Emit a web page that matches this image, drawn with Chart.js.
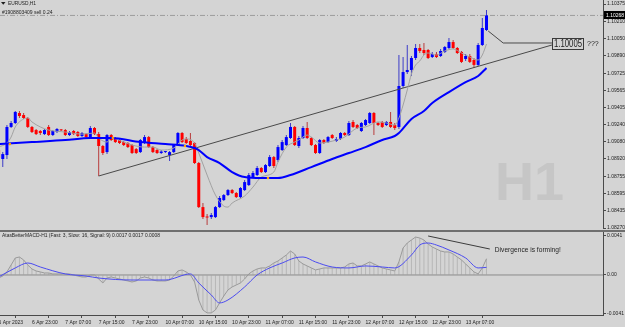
<!DOCTYPE html>
<html>
<head>
<meta charset="utf-8">
<title>EURUSD,H1</title>
<script src="https://cdn.jsdelivr.net/npm/chart.js@4.4.1/dist/chart.umd.min.js"></script>
<style>
  html, body { margin: 0; padding: 0; background: #d4d4d4; overflow: hidden; }
  #box { position: relative; width: 625px; height: 327px; }
  canvas { position: absolute; left: 0; }
  #price { top: 0; }
  #macd { top: 229px; }
</style>
</head>
<body>
<div id="box">
  <canvas id="price" width="625" height="229"></canvas>
  <canvas id="macd" width="625" height="98"></canvas>
</div>
<script>
// H1 bars, 6 Apr 15:00 .. 13 Apr 12:00 (index 0..117)
const open = [
  1.09003, 1.08919, 1.08956, 1.0922, 1.09257, 1.09351, 1.09332, 1.09304, 1.0922, 1.09191,
  1.09182, 1.09153, 1.0922, 1.09144, 1.09172, 1.09191, 1.09191, 1.09144, 1.09182, 1.09172,
  1.09135, 1.09153, 1.09116, 1.0921, 1.09153, 1.09041, 1.08984, 1.09144, 1.09116, 1.09097,
  1.09078, 1.09069, 1.0905, 1.09012, 1.08984, 1.09069, 1.09125, 1.09031, 1.09003, 1.08975,
  1.08984, 1.08956, 1.08984, 1.0905, 1.09163, 1.09107, 1.09088, 1.09069, 1.08881, 1.08467,
  1.08373, 1.08373, 1.08373, 1.08467, 1.08533, 1.0858, 1.08627, 1.08599, 1.08561, 1.08627,
  1.08674, 1.08749, 1.08768, 1.08834, 1.08796, 1.08853, 1.08937, 1.08909, 1.09003, 1.0905,
  1.09116, 1.0922, 1.09041, 1.09116, 1.0921, 1.09116, 1.0905, 1.08975, 1.09097, 1.09078,
  1.09144, 1.09088, 1.09107, 1.09163, 1.09144, 1.09267, 1.09238, 1.09182, 1.09238, 1.09257,
  1.09351, 1.09257, 1.09267, 1.09238, 1.09267, 1.09238, 1.0922, 1.09605, 1.09736, 1.09755,
  1.09868, 1.09962, 1.09943, 1.09943, 1.09877, 1.09906, 1.09887, 1.09925, 1.09962, 1.10018,
  1.09962, 1.09925, 1.09859, 1.09887, 1.09849, 1.09803, 1.0999, 1.10131
]
const high = [
  1.09022, 1.08984, 1.09238, 1.09276, 1.0937, 1.0937, 1.09351, 1.09313, 1.09229, 1.09201,
  1.09191, 1.09201, 1.09238, 1.09191, 1.0921, 1.09201, 1.09201, 1.09182, 1.09191, 1.09182,
  1.09172, 1.09163, 1.09229, 1.0922, 1.09172, 1.0905, 1.09153, 1.09153, 1.09125, 1.09107,
  1.09088, 1.09078, 1.09059, 1.09022, 1.09107, 1.09144, 1.09135, 1.09041, 1.09012, 1.09003,
  1.08994, 1.08994, 1.09059, 1.09172, 1.09172, 1.09125, 1.09163, 1.09078, 1.0889, 1.08505,
  1.08401, 1.08411, 1.08477, 1.08571, 1.08589, 1.08637, 1.08637, 1.08608, 1.08655, 1.08721,
  1.08787, 1.08806, 1.08853, 1.08843, 1.08871, 1.08956, 1.08947, 1.0905, 1.09097, 1.09144,
  1.09257, 1.09229, 1.09135, 1.09229, 1.09267, 1.09125, 1.09059, 1.09107, 1.09107, 1.09135,
  1.09153, 1.09125, 1.09172, 1.09172, 1.09276, 1.09285, 1.09248, 1.09267, 1.09295, 1.09361,
  1.09361, 1.09267, 1.09276, 1.09276, 1.09361, 1.09257, 1.09896, 1.09877, 1.0999, 1.09887,
  1.09999, 1.09999, 1.10009, 1.09953, 1.09925, 1.09925, 1.09953, 1.09981, 1.10056, 1.10037,
  1.09971, 1.09934, 1.09906, 1.09906, 1.09868, 1.10009, 1.10244, 1.10319
]
const low = [
  1.08909, 1.08843, 1.08919, 1.0921, 1.09248, 1.09304, 1.09295, 1.0921, 1.09163, 1.09144,
  1.09144, 1.09144, 1.09135, 1.09135, 1.09163, 1.09182, 1.09135, 1.09135, 1.09144, 1.09125,
  1.09125, 1.09116, 1.09107, 1.09144, 1.08759, 1.08956, 1.08965, 1.09088, 1.09069, 1.09059,
  1.09041, 1.09022, 1.08965, 1.08965, 1.08975, 1.09059, 1.09022, 1.08975, 1.08965, 1.08965,
  1.08975, 1.089, 1.08975, 1.09041, 1.09069, 1.09059, 1.09041, 1.08871, 1.08458, 1.08355,
  1.08298, 1.08355, 1.08364, 1.08458, 1.08524, 1.08571, 1.08589, 1.08552, 1.08552, 1.08618,
  1.08665, 1.0874, 1.08759, 1.08787, 1.08787, 1.08843, 1.08834, 1.0889, 1.08994, 1.09041,
  1.09107, 1.09041, 1.09022, 1.09107, 1.09107, 1.09041, 1.08965, 1.08965, 1.09059, 1.09069,
  1.09107, 1.09078, 1.09097, 1.09135, 1.09135, 1.0921, 1.09201, 1.09172, 1.09229, 1.09248,
  1.09144, 1.09229, 1.0921, 1.09229, 1.0921, 1.09191, 1.09201, 1.09586, 1.09717, 1.09699,
  1.09849, 1.09915, 1.09896, 1.09859, 1.09868, 1.09868, 1.09877, 1.09915, 1.09953, 1.09953,
  1.09906, 1.09821, 1.0984, 1.09821, 1.09774, 1.09793, 1.09981, 1.10122
]
const close = [
  1.08928, 1.08965, 1.0922, 1.09257, 1.09361, 1.09323, 1.09304, 1.0922, 1.09172, 1.09153,
  1.09163, 1.09191, 1.09144, 1.09182, 1.09201, 1.09188, 1.09144, 1.09172, 1.09153, 1.09135,
  1.09163, 1.09125, 1.0921, 1.09153, 1.09041, 1.08975, 1.09144, 1.09097, 1.09078, 1.09069,
  1.0905, 1.09031, 1.08975, 1.08975, 1.09097, 1.09125, 1.09031, 1.08984, 1.08975, 1.08989,
  1.08984, 1.08984, 1.0905, 1.09163, 1.09078, 1.09069, 1.0905, 1.08881, 1.08467, 1.08373,
  1.08369, 1.08392, 1.08467, 1.08552, 1.0858, 1.08627, 1.08599, 1.08561, 1.08646, 1.08702,
  1.08768, 1.08787, 1.08834, 1.08796, 1.08862, 1.08937, 1.08853, 1.09031, 1.09078, 1.09125,
  1.0922, 1.0905, 1.09116, 1.0921, 1.09116, 1.0905, 1.08975, 1.09097, 1.09069, 1.09125,
  1.09116, 1.09107, 1.09163, 1.09144, 1.09257, 1.0922, 1.0921, 1.09257, 1.09285, 1.09351,
  1.09257, 1.09238, 1.0922, 1.09267, 1.0922, 1.0921, 1.09605, 1.09736, 1.09755, 1.09868,
  1.09962, 1.09934, 1.09915, 1.09868, 1.09906, 1.09877, 1.09934, 1.09971, 1.10018, 1.09962,
  1.09915, 1.09831, 1.09887, 1.09831, 1.09803, 1.0999, 1.1015, 1.10268
]

// blue (slow) moving average
const slowIdx = [0, 8, 16, 22, 27, 34, 40, 45, 47, 48, 50, 53, 56, 59, 63, 67, 70, 75, 80, 84, 88, 92, 95, 96, 99, 102, 104, 108, 112, 115, 117]
const slowVal = [1.09059, 1.09078, 1.09097, 1.09116, 1.09116, 1.09078, 1.09059, 1.09041, 1.09022, 1.09003, 1.08937, 1.08881, 1.08796, 1.08749, 1.0874, 1.0874, 1.08768, 1.08843, 1.08919, 1.08975, 1.09031, 1.09097, 1.09135, 1.09163, 1.09295, 1.0937, 1.09445, 1.09548, 1.09642, 1.09699, 1.09774]

// gray (fast) moving average
const fastIdx = [0, 2, 3, 4, 6, 7, 8, 10, 12, 16, 20, 23, 24, 26, 27, 30, 32, 35, 37, 39, 42, 44, 45, 47, 48, 50, 52, 54, 55, 56, 59, 61, 63, 66, 67, 69, 71, 72, 74, 75, 77, 79, 81, 83, 86, 88, 91, 93, 95, 96, 97, 98, 99, 100, 101, 102, 103, 105, 107, 109, 111, 113, 115, 116, 117]
const fastVal = [1.09031, 1.09069, 1.09125, 1.0922, 1.09295, 1.09304, 1.09267, 1.0922, 1.09191, 1.09172, 1.09153, 1.09163, 1.09116, 1.09078, 1.09116, 1.09078, 1.0905, 1.09031, 1.09031, 1.09003, 1.09022, 1.09097, 1.09107, 1.09069, 1.08975, 1.08768, 1.0858, 1.08477, 1.08467, 1.08505, 1.08571, 1.08655, 1.08749, 1.08796, 1.0889, 1.09031, 1.09078, 1.09097, 1.09144, 1.09125, 1.09069, 1.09078, 1.09097, 1.09125, 1.0921, 1.0922, 1.09267, 1.09257, 1.09238, 1.09304, 1.09426, 1.09567, 1.09717, 1.09802, 1.0984, 1.09896, 1.09915, 1.09896, 1.09934, 1.09953, 1.09915, 1.09877, 1.09849, 1.09896, 1.09999]

// small orange marks on the slow average
const crossIdx = [2.7, 27.4, 44.7, 64.6]
const crossVal = [1.09059, 1.09116, 1.09041, 1.0874]

// drawn objects
const trendIdx = [24, 132.7]
const trendVal = [1.08759, 1.0999]
const calloutIdx = [117.4, 121, 132.7]
const calloutVal = [1.10122, 1.10009, 1.10009]
const boxIdx = 132.7
const boxPrice = 1.09999
const boxText = "1.10005"
const bid = 1.10268

const priceTicks = [1.10375, 1.1021, 1.1005, 1.0989, 1.09725, 1.09565, 1.09405, 1.0924, 1.0908, 1.0892, 1.08755, 1.08595, 1.08435, 1.0827]

// MACD main per bar, signal read at points
const macd = [
  -0.00032, -0.00011, 0.00032, 0.00105, 0.00179, 0.00189, 0.00158, 0.00105, 0.00063, 0.00042,
  0.00032, 0.00021, 0.00021, 0.00011, 0.00011, 0.00011, 0.00011, 0.00011, 0, -0.00011,
  -0.00021, -0.00021, 0, 0, -0.00042, -0.00084, -0.00032, -0.00021, -0.00032, -0.00042,
  -0.00053, -0.00063, -0.00074, -0.00063, -0.00032, -0.00021, -0.00032, -0.00053, -0.00063, -0.00063,
  -0.00063, -0.00053, -0.00011, 0.00042, 0.00053, 0.00032, 0, -0.00074, -0.00263, -0.00368,
  -0.00399, -0.00399, -0.00368, -0.00294, -0.00221, -0.00158, -0.00126, -0.00105, -0.00084, -0.00042,
  0.00011, 0.00042, 0.00063, 0.00074, 0.00074, 0.00095, 0.00126, 0.00147, 0.00179, 0.0021,
  0.00252, 0.00221, 0.00147, 0.00116, 0.00095, 0.00074, 0.00053, 0.00063, 0.00074, 0.00074,
  0.00074, 0.00074, 0.00074, 0.00084, 0.00116, 0.00126, 0.00095, 0.00095, 0.00116, 0.00137,
  0.00116, 0.00095, 0.00074, 0.00063, 0.00053, 0.00042, 0.00137, 0.00284, 0.00336, 0.00368,
  0.00399, 0.00389, 0.00368, 0.00326, 0.00294, 0.00273, 0.00252, 0.00242, 0.00242, 0.00221,
  0.00189, 0.00158, 0.00116, 0.00074, 0.00032, 0.00011, 0.00074, 0.0017
]
const sigIdx = [0, 4, 7, 10, 16, 21, 24, 32, 40, 46, 48, 51, 53, 55, 59, 62, 65, 68, 71, 73, 76, 80, 84, 88, 92, 95, 99, 101, 103, 105, 108, 112, 115, 117]
const sigVal = [-0.00021, 0.00074, 0.00126, 0.00084, 0.00011, -0.00011, -0.00032, -0.00053, -0.00053, 0.00011, -0.00084, -0.0021, -0.00294, -0.00263, -0.00126, 0, 0.00074, 0.00126, 0.00179, 0.00189, 0.00137, 0.00084, 0.00074, 0.00095, 0.00084, 0.00074, 0.0021, 0.00315, 0.00336, 0.00315, 0.00263, 0.00179, 0.00074, 0.0008]
const divIdx = [103, 117.8]
const divVal = [0.0041, 0.00273]
const divText = "Divergence is forming!"
const divTextIdx = 119
const divTextVal = 0.00263
const macdTitle = "AtasBetterMACD-H1 (Fast: 3, Slow: 16, Signal: 9) 0.0017 0.0017 0.0008"
const macdTicks = [0.0041, 0, -0.0041]
const macdTickLabels = ["0.0041", "0.00", "-0.0041"]

const timeIdx = [0, 8, 16, 24, 32, 40, 48, 56, 64, 72, 80, 88, 96, 104, 112]
const timeLabels = ["6 Apr 2023", "6 Apr 23:00", "7 Apr 07:00", "7 Apr 15:00", "7 Apr 23:00", "10 Apr 07:00", "10 Apr 15:00", "10 Apr 23:00", "11 Apr 07:00", "11 Apr 15:00", "11 Apr 23:00", "12 Apr 07:00", "12 Apr 15:00", "12 Apr 23:00", "13 Apr 07:00"]

const FONT = '"Liberation Sans", Arial, sans-serif'
const BG = "#d4d4d4"
const X_MIN = 0.336
const X_MAX = 144.94

function pts(xs, ys) {
  return xs.map((x, i) => ({ x: x, y: ys[i] }))
}

function fitAxis(w, h) {
  return (s) => {
    if (w) s.width = w
    if (h) s.height = h
    s.paddingTop = 0
    s.paddingBottom = 0
    s.paddingLeft = 0
    s.paddingRight = 0
  }
}

const axisTicks = { autoSkip: false, maxRotation: 0, minRotation: 0, padding: 1, color: "#1e1e1e", font: { family: FONT, size: 5 } }
const axisGrid = { drawOnChartArea: false, tickLength: 3, color: "#4a4a4a" }

const pricePaint = {
  id: "pricePaint",
  beforeDraw(chart) {
    const { ctx, width, height, chartArea: a } = chart
    ctx.save()
    ctx.fillStyle = BG
    ctx.fillRect(0, 0, width, height)
    ctx.font = "bold 54px " + FONT
    ctx.fillStyle = "#c6c6c6"
    ctx.textBaseline = "alphabetic"
    ctx.fillText("H1", a.right - 108, a.bottom - 29)
    ctx.restore()
  },
  afterDraw(chart) {
    const { ctx, chartArea: a } = chart
    const xs = chart.scales.x
    const ys = chart.scales.y
    ctx.save()
    ctx.fillStyle = "#1e1e1e"
    ctx.beginPath()
    ctx.moveTo(1, 2)
    ctx.lineTo(5.5, 2)
    ctx.lineTo(3.25, 4.8)
    ctx.fill()
    ctx.textBaseline = "middle"
    ctx.font = "5.5px " + FONT
    ctx.fillText("EURUSD,H1", 8, 3.5, 28)
    ctx.font = "5px " + FONT
    ctx.fillText("#1908803409 sell 0.24", 2, 13)
    // current price on the axis
    const yb = ys.getPixelForValue(bid)
    ctx.fillStyle = "#000"
    ctx.fillRect(a.right + 1, Math.round(yb) - 4, 22, 8)
    ctx.fillStyle = "#fff"
    ctx.fillText(bid.toFixed(5), a.right + 3, yb)
    // text label box
    const bx = Math.round(xs.getPixelForValue(boxIdx))
    const by = Math.round(ys.getPixelForValue(boxPrice))
    ctx.strokeStyle = "#3a3a3a"
    ctx.lineWidth = 1
    ctx.strokeRect(bx + 0.5, by - 5.5, 31, 11)
    ctx.fillStyle = "#1e1e1e"
    ctx.font = "10px " + FONT
    ctx.fillText(boxText, bx + 2, by + 0.5, 28)
    ctx.font = "7px " + FONT
    ctx.fillText("???", bx + 35, by)
    ctx.restore()
  },
}

const macdPaint = {
  id: "macdPaint",
  beforeDraw(chart) {
    const { ctx, width, height } = chart
    ctx.save()
    ctx.fillStyle = BG
    ctx.fillRect(0, 0, width, height)
    ctx.fillStyle = "#6f6f6f"
    ctx.fillRect(0, 1, width, 2)
    ctx.restore()
  },
  afterDraw(chart) {
    const { ctx, chartArea: a } = chart
    const xs = chart.scales.x
    const ys = chart.scales.y
    ctx.save()
    ctx.fillStyle = "#1e1e1e"
    ctx.textBaseline = "middle"
    ctx.font = "5px " + FONT
    ctx.fillText(macdTitle, 2, a.top + 4, 158)
    ctx.font = "6.7px " + FONT
    ctx.fillText(divText, xs.getPixelForValue(divTextIdx), ys.getPixelForValue(divTextVal), 66)
    ctx.restore()
  },
}

const bodyColors = open.map((o, i) => (close[i] >= o ? "#0000ff" : "#ff0000"))
const wickColors = open.map((o, i) => (close[i] >= o ? "#3c3cc8" : "#b83c3c"))

new Chart(document.getElementById("price"), {
  type: "bar",
  data: {
    datasets: [
      { type: "line", data: pts(crossIdx, crossVal), showLine: false, pointRadius: 1.3, pointBorderWidth: 0, pointBackgroundColor: "#ffa500", order: 0 },
      { type: "line", data: pts(slowIdx, slowVal), borderColor: "#0000ff", borderWidth: 2, pointRadius: 0, cubicInterpolationMode: "monotone", order: 1 },
      { type: "line", data: pts(fastIdx, fastVal), borderColor: "#a2a2a2", borderWidth: 1, pointRadius: 0, cubicInterpolationMode: "monotone", order: 2 },
      { type: "line", data: pts(trendIdx, trendVal), borderColor: "#4a4a4a", borderWidth: 1, pointRadius: 0, order: 3 },
      { type: "line", data: pts(calloutIdx, calloutVal), borderColor: "#4a4a4a", borderWidth: 1, pointRadius: 0, order: 3 },
      { data: open.map((o, i) => ({ x: i, y: [o, close[i]] })), backgroundColor: bodyColors, barThickness: 3, grouped: false, minBarLength: 1, inflateAmount: 0, order: 5 },
      { data: low.map((l, i) => ({ x: i, y: [l, high[i]] })), backgroundColor: wickColors, barThickness: 1, grouped: false, inflateAmount: 0, order: 6 },
      { type: "line", data: [{ x: X_MIN, y: bid }, { x: X_MAX, y: bid }], borderColor: "#9c9c9c", borderWidth: 1, borderDash: [5, 2, 1, 2], pointRadius: 0, order: 7 },
    ],
  },
  options: {
    responsive: false,
    animation: false,
    events: [],
    layout: { padding: 0, autoPadding: false },
    plugins: { legend: { display: false }, tooltip: { enabled: false } },
    scales: {
      x: { type: "linear", min: X_MIN, max: X_MAX, offset: false, display: false },
      y: {
        type: "linear",
        position: "right",
        min: 1.08261,
        max: 1.10413,
        afterFit: fitAxis(22, 0),
        afterBuildTicks: (s) => { s.ticks = priceTicks.map((v) => ({ value: v })) },
        ticks: Object.assign({}, axisTicks, { callback: (v) => v.toFixed(5) }),
        grid: axisGrid,
        border: { color: "#4a4a4a" },
      },
    },
  },
  plugins: [pricePaint],
})

new Chart(document.getElementById("macd"), {
  type: "bar",
  data: {
    datasets: [
      { type: "line", data: pts(divIdx, divVal), borderColor: "#3c3c3c", borderWidth: 1, pointRadius: 0, order: 0 },
      { type: "line", data: pts(sigIdx, sigVal), borderColor: "#4b4bf0", borderWidth: 1, pointRadius: 0, cubicInterpolationMode: "monotone", order: 1 },
      { type: "line", data: macd.map((v, i) => ({ x: i, y: v })), borderColor: "#9a9a9a", borderWidth: 1, pointRadius: 0, order: 2 },
      { type: "line", data: [{ x: X_MIN, y: 0 }, { x: X_MAX, y: 0 }], borderColor: "#8a8a8a", borderWidth: 1, pointRadius: 0, order: 3 },
      { data: macd.map((v, i) => ({ x: i, y: [0, v] })), backgroundColor: "#b6b6b6", barThickness: 1, grouped: false, inflateAmount: 0, order: 4 },
    ],
  },
  options: {
    responsive: false,
    animation: false,
    events: [],
    layout: { padding: { top: 3, left: 0, right: 0, bottom: 0 }, autoPadding: false },
    plugins: { legend: { display: false }, tooltip: { enabled: false } },
    scales: {
      x: {
        type: "linear",
        position: "bottom",
        min: X_MIN,
        max: X_MAX,
        offset: false,
        afterFit: fitAxis(0, 12),
        afterBuildTicks: (s) => { s.ticks = timeIdx.map((v) => ({ value: v })) },
        ticks: Object.assign({}, axisTicks, { align: "start", padding: 2, callback: (v, i) => timeLabels[i] }),
        grid: axisGrid,
        border: { color: "#4a4a4a" },
      },
      y: {
        type: "linear",
        position: "right",
        min: -0.00421,
        max: 0.00452,
        afterFit: fitAxis(22, 0),
        afterBuildTicks: (s) => { s.ticks = macdTicks.map((v) => ({ value: v })) },
        ticks: Object.assign({}, axisTicks, { callback: (v, i) => macdTickLabels[i] }),
        grid: axisGrid,
        border: { color: "#4a4a4a" },
      },
    },
  },
  plugins: [macdPaint],
})
</script>
</body>
</html>
